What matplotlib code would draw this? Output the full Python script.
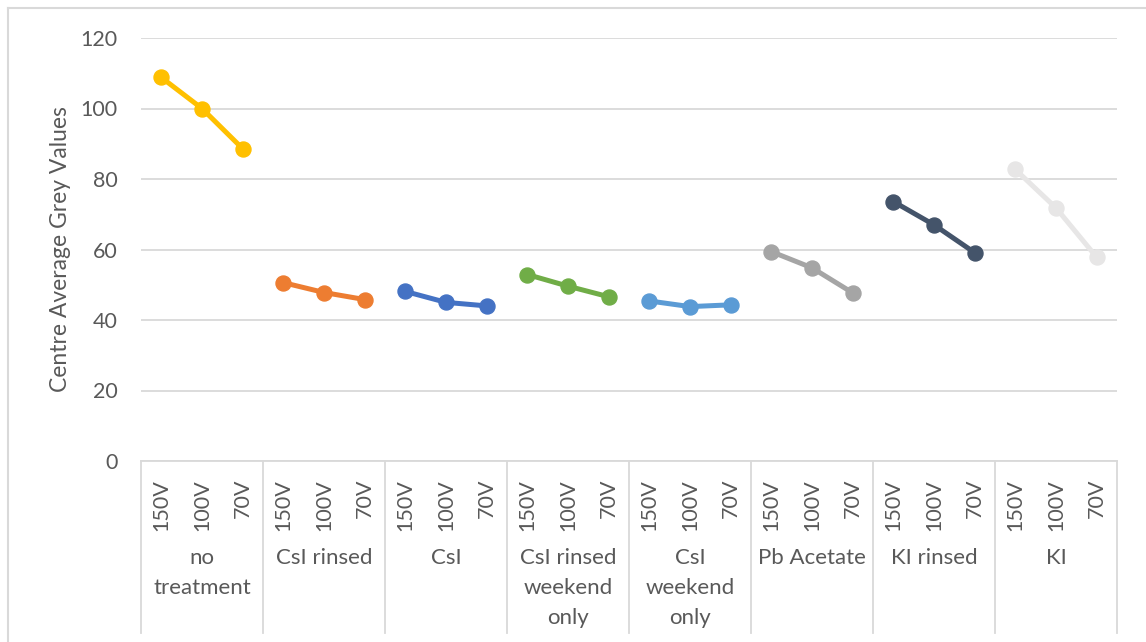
import matplotlib.pyplot as plt
from matplotlib.lines import Line2D
import matplotlib.transforms as mtransforms

groups = ["no\ntreatment", "CsI rinsed", "CsI", "CsI rinsed\nweekend\nonly",
          "CsI\nweekend\nonly", "Pb Acetate", "KI rinsed", "KI"]
voltages = ["150V", "100V", "70V"]

no_treatment = [108.8, 100.0, 88.6]
csi_rinsed = [50.6, 47.8, 45.8]
csi = [48.1, 45.0, 44.0]
csi_rinsed_weekend = [52.9, 49.6, 46.6]
csi_weekend = [45.4, 43.8, 44.3]
pb_acetate = [59.4, 54.8, 47.7]
ki_rinsed = [73.6, 67.0, 59.1]
ki = [82.7, 71.8, 57.8]

series = [no_treatment, csi_rinsed, csi, csi_rinsed_weekend, csi_weekend,
          pb_acetate, ki_rinsed, ki]
colors = ["#FFC000", "#ED7D31", "#4472C4", "#70AD47", "#5B9BD5",
          "#A5A5A5", "#44546A", "#E7E6E6"]

W, H = 1146, 642
plt.rcParams['font.family'] = ['Lato', 'DejaVu Sans']
txt = "#595959"
grid = "#D9D9D9"

fig = plt.figure(figsize=(W / 100, H / 100), dpi=100)
ax = fig.add_axes([141 / W, (H - 461) / H, (1117 - 141) / W, (461 - 38) / H])

for g, (vals, c) in enumerate(zip(series, colors)):
    xs = [g * 3 + k for k in range(3)]
    ax.plot(xs, vals, color=c, lw=3.6, marker="o", ms=10.8, zorder=3,
            solid_capstyle="round")

ax.set_xlim(-0.5, 23.5)
ax.set_ylim(0, 120)
ax.set_yticks(range(0, 121, 20))
ax.tick_params(axis="y", length=0, pad=17, labelsize=15.5, labelcolor=txt)
ax.yaxis.grid(True, color=grid, lw=1.3)
ax.set_axisbelow(True)
for s in ["top", "right", "left"]:
    ax.spines[s].set_visible(False)
ax.spines["bottom"].set_color(grid)
ax.spines["bottom"].set_linewidth(1.3)

ax.set_xticks(range(24))
ax.set_xticklabels(voltages * 8, rotation=90, fontsize=15.5, color=txt)
ax.tick_params(axis="x", length=0, pad=13)

ax.set_ylabel("Centre Average Grey Values", fontsize=16.5, color=txt, labelpad=7)

trans = mtransforms.blended_transform_factory(ax.transData, ax.transAxes)
drop = (633 - 461) / (461 - 38)
for g in range(9):
    ax.add_line(Line2D([g * 3 - 0.5] * 2, [0, -drop], transform=trans,
                       color=grid, lw=1.3, clip_on=False))
lab_top = -(548 - 461) / (461 - 38)
for g, name in enumerate(groups):
    ax.text(g * 3 + 1, lab_top, name, transform=trans, ha="center", va="top",
            fontsize=16, color=txt, linespacing=1.62)

# chart frame
fig.add_artist(Line2D([8 / W, 8 / W], [0, 1 - 8 / H], color=grid, lw=1.5))
fig.add_artist(Line2D([8 / W, 1], [1 - 8 / H, 1 - 8 / H], color=grid, lw=1.5))

fig.savefig("out.png", dpi=100)
